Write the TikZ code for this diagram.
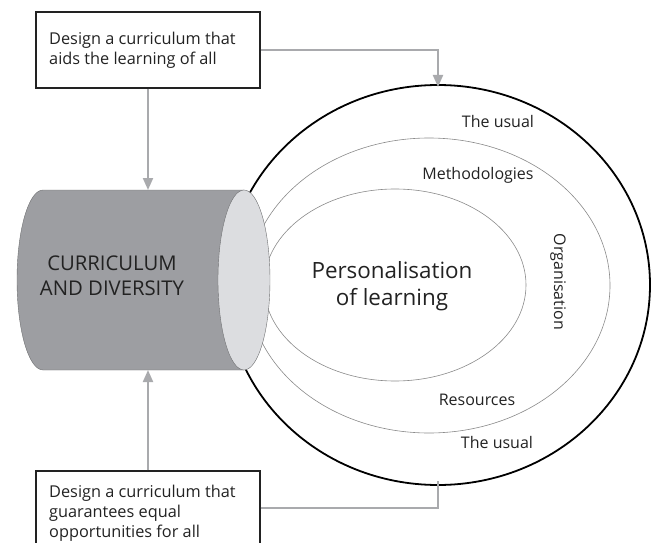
\documentclass[tikz,border=0pt]{standalone}
\usepackage{fontspec}
\setmainfont{Open Sans}
\usetikzlibrary{arrows.meta,shapes.geometric}
\definecolor{txt}{HTML}{222222}
\definecolor{conn}{HTML}{A9AAAD}
\definecolor{cylbody}{HTML}{9D9EA2}
\definecolor{cylface}{HTML}{DCDDE0}
\definecolor{thin}{HTML}{8A8A8A}
\tikzset{
  textbox/.style={draw=txt, line width=1.1pt, minimum width=224pt, inner sep=0pt},
  connector/.style={draw=conn, line width=2pt},
  arr/.style={-{Triangle[width=10pt,length=12pt]}},
  ring/.style={ellipse, inner sep=0pt, outer sep=0pt},
  lbl/.style={text=txt, font=\fontsize{16}{19}\selectfont, inner sep=0pt},
  boxtext/.style={text=txt, font=\fontsize{16.3}{20}\selectfont, align=left, inner sep=0pt},
}
\begin{document}
\begin{tikzpicture}[x=1pt,y=-1pt]
\useasboundingbox (0,0) rectangle (651,543);
% rings
\node[ring, draw=black, line width=1.8pt, minimum width=424pt, minimum height=400pt] (outer) at (438,285) {};
\node[ring, draw=thin, line width=0.6pt, minimum width=362pt, minimum height=295pt] (middle) at (429,285.5) {};
\node[ring, draw=thin, line width=0.6pt, minimum width=262pt, minimum height=192pt] (inner) at (395,285) {};
% cylinder
\fill[cylbody] (244,190) -- (43,190) arc[start angle=90, end angle=270, x radius=26pt, y radius=90pt] -- (244,370) -- cycle;
\draw[cylbody!70!black, line width=0.4pt] (244,190) -- (43,190) arc[start angle=90, end angle=270, x radius=26pt, y radius=90pt] -- (244,370);
\filldraw[fill=cylface, draw=cylbody!70!black, line width=0.4pt] (244,280) ellipse[x radius=26pt, y radius=90pt];
\coordinate (cyltop) at (148,190);
\coordinate (cylbot) at (148,370);
\node[text=txt, font=\fontsize{20.3}{25}\selectfont, align=center, inner sep=0pt, anchor=base] (cyltext) at (112,295) {CURRICULUM\\AND DIVERSITY};
% inner labels
\node[text=txt, font=\fontsize{22.4}{27}\selectfont, align=center, inner sep=0pt, anchor=base] (pers) at (392,305) {Personalisation\\of learning};
\node[lbl, anchor=base] (usual1) at (498,128) {The usual};
\node[lbl, anchor=base] (meth) at (478,179) {Methodologies};
\node[lbl, rotate=-90] (org) at (558,282) {Organisation};
\node[lbl, anchor=base] (res) at (477,405) {Resources};
\node[lbl, anchor=base] (usual2) at (497,448) {The usual};
% boxes
\node[textbox, minimum height=76pt] (topbox) at (148,50) {};
\node[boxtext, anchor=base west] (toptext) at (49,65) {Design a curriculum that\\aids the learning of all};
\node[textbox, minimum height=100pt] (botbox) at (148,521) {};
\node[boxtext, anchor=base west] (bottext) at (49,537) {Design a curriculum that\\guarantees equal\\opportunities for all};
% connectors
\draw[connector, arr] (topbox.south) -- (cyltop);
\draw[connector, arr] (botbox.north) -- (cylbot);
\draw[connector, arr] (topbox.east) -| ([yshift=-2pt]outer.north);
\draw[connector] (botbox.east |- 0,508) -| ([yshift=4pt]outer.south);
\end{tikzpicture}
\end{document}
